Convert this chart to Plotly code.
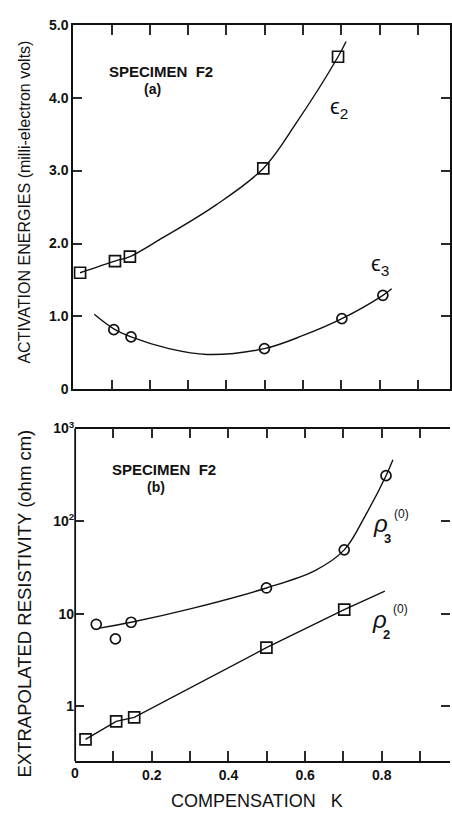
import plotly.graph_objects as go

# ---------------- data ----------------
# Panel (a): activation energies (meV) vs compensation K
k_e2 = [0.018, 0.109, 0.148, 0.496, 0.691]
e2 = [1.60, 1.76, 1.82, 3.03, 4.56]
k_e2_curve = [0.018, 0.109, 0.148, 0.234, 0.37, 0.496, 0.583, 0.691, 0.712]
e2_curve = [1.60, 1.76, 1.82, 2.08, 2.52, 3.03, 3.66, 4.56, 4.77]

k_e3 = [0.106, 0.151, 0.499, 0.701, 0.808]
e3 = [0.82, 0.72, 0.56, 0.97, 1.29]
k_e3_curve = [0.055, 0.106, 0.151, 0.25, 0.35, 0.499, 0.60, 0.701, 0.808, 0.831]
e3_curve = [1.03, 0.83, 0.72, 0.56, 0.48, 0.56, 0.74, 0.97, 1.29, 1.38]

# Panel (b): extrapolated resistivity (ohm cm) vs compensation K
k_r3 = [0.055, 0.105, 0.146, 0.499, 0.702, 0.811]
r3 = [7.7, 5.35, 8.1, 19.0, 49.0, 310.0]
k_r3_curve = [0.063, 0.146, 0.30, 0.499, 0.627, 0.702, 0.757, 0.811, 0.829]
r3_curve = [7.0, 8.1, 11.3, 19.0, 29.5, 49.0, 115.0, 310.0, 460.0]

k_r2 = [0.027, 0.107, 0.154, 0.499, 0.702]
r2 = [0.44, 0.69, 0.76, 4.3, 11.1]
k_r2_line = [0.027, 0.107, 0.154, 0.499, 0.702, 0.808]
r2_line = [0.44, 0.69, 0.76, 4.3, 11.1, 17.6]

# ticks
x_tickvals = [0.1 * i for i in range(1, 10)]
x_ticktext = ["", "0.2", "", "0.4", "", "0.6", "", "0.8", ""]
e_tickvals = [0, 1, 2, 3, 4, 5]
e_ticktext = ["0", "1.0", "2.0", "3.0", "4.0", "5.0"]
r_tickvals = [1, 10, 100, 1000]
r_ticktext = ["1", "10", "10<sup>2</sup>", "10<sup>3</sup>"]

# ---------------- figure ----------------
W, H = 452, 818
FONT = "Liberation Sans"
BLACK = "#111111"

fig = go.Figure()

line_style = dict(color=BLACK, width=1.4)
sq_marker = dict(symbol="square-open", size=11, color=BLACK, line=dict(width=1.7, color=BLACK))
ci_marker = dict(symbol="circle-open", size=10, color=BLACK, line=dict(width=1.7, color=BLACK))

fig.add_trace(go.Scatter(x=k_e2_curve, y=e2_curve, mode="lines", line=dict(shape="spline", **line_style),
                         xaxis="x", yaxis="y", hoverinfo="skip"))
fig.add_trace(go.Scatter(x=k_e2, y=e2, mode="markers", marker=sq_marker, xaxis="x", yaxis="y"))
fig.add_trace(go.Scatter(x=k_e3_curve, y=e3_curve, mode="lines", line=dict(shape="spline", **line_style),
                         xaxis="x", yaxis="y", hoverinfo="skip"))
fig.add_trace(go.Scatter(x=k_e3, y=e3, mode="markers", marker=ci_marker, xaxis="x", yaxis="y"))
fig.add_trace(go.Scatter(x=k_r3_curve, y=r3_curve, mode="lines", line=dict(shape="spline", **line_style),
                         xaxis="x2", yaxis="y2", hoverinfo="skip"))
fig.add_trace(go.Scatter(x=k_r3, y=r3, mode="markers", marker=ci_marker, xaxis="x2", yaxis="y2"))
fig.add_trace(go.Scatter(x=k_r2_line, y=r2_line, mode="lines", line=line_style,
                         xaxis="x2", yaxis="y2", hoverinfo="skip"))
fig.add_trace(go.Scatter(x=k_r2, y=r2, mode="markers", marker=sq_marker, xaxis="x2", yaxis="y2"))

top_dom = [1 - 388 / H, 1 - 15 / H]
bot_dom = [1 - 768 / H, 1 - 428 / H]
x_left_top = 73.5
x_left_bot = 75.5
scale = 385.0
e_range = [0, 5.0]
r_range = [-0.591, 3.0]

tickfont = dict(family=FONT, size=14, color=BLACK)
TC = "#2a2a2a"

common_x = dict(showgrid=False, zeroline=False, showline=True, linecolor=BLACK, linewidth=1.8,
                mirror="ticks", ticks="inside", ticklen=10, tickwidth=2, tickcolor=TC,
                tickmode="array", tickvals=x_tickvals, tickfont=tickfont)
common_y = dict(showgrid=False, zeroline=False, linecolor=BLACK, linewidth=1.8, mirror="ticks",
                ticks="inside", ticklen=9, tickwidth=2, tickcolor=TC, tickmode="array",
                tickfont=tickfont)

fig.update_layout(
    width=W, height=H,
    margin=dict(l=0, r=0, t=0, b=0),
    paper_bgcolor="white", plot_bgcolor="white",
    showlegend=False,
    font=dict(family=FONT, color=BLACK),
    xaxis=dict(domain=[x_left_top / W, 1], range=[0, (W - x_left_top) / scale], anchor="y",
               showticklabels=False, **common_x),
    yaxis=dict(domain=top_dom, range=e_range, anchor="x", tickvals=e_tickvals, showline=True,
               ticktext=["<b>%s</b>" % t for t in e_ticktext], **common_y),
    xaxis2=dict(domain=[x_left_bot / W, 1], range=[0, (W - x_left_bot) / scale], anchor="y2",
                ticktext=["<b>%s</b>" % t if t else "" for t in x_ticktext], **common_x),
    yaxis2=dict(domain=bot_dom, type="log", range=r_range, anchor="x2", tickvals=r_tickvals, showline=False,
                ticktext=["<b>%s</b>" % t for t in r_ticktext], **common_y),
)

ann = []
def A(text, x, y, xref, yref, size, **kw):
    d = dict(text=text, x=x, y=y, xref=xref, yref=yref, showarrow=False,
             font=dict(family=FONT, size=size, color=BLACK), xanchor="center", yanchor="middle")
    d.update(kw)
    ann.append(d)

A("<b>SPECIMEN  F2</b>", 0.229, 4.36, "x", "y", 15)
A("<b>(a)</b>", 0.207, 4.12, "x", "y", 14)
A("<b>SPECIMEN  F2</b>", 0.233, 2.555, "x2", "y2", 15)
A("<b>(b)</b>", 0.211, 2.365, "x2", "y2", 14)

A("ϵ<sub>2</sub>", 0.693, 3.86, "x", "y", 22)
A("ϵ<sub>3</sub>", 0.80, 1.70, "x", "y", 22)
A("<i>ρ</i>", 0.797, 1.975, "x2", "y2", 24)
A("(0)", 0.852, 2.08, "x2", "y2", 12)
A("<b>3</b>", 0.815, 1.81, "x2", "y2", 13)
A("<i>ρ</i>", 0.794, 0.94, "x2", "y2", 24)
A("(0)", 0.849, 1.05, "x2", "y2", 12)
A("<b>2</b>", 0.812, 0.78, "x2", "y2", 13)

A("ACTIVATION ENERGIES (milli-electron volts)", 25 / W, 1 - 196 / H, "paper", "paper", 16, textangle=-90)
A("EXTRAPOLATED RESISTIVITY (ohm cm)", 25 / W, 1 - 607 / H, "paper", "paper", 18.5, textangle=-90)
A("COMPENSATION   K", 258 / W, 1 - 809 / H, "paper", "paper", 18)
A("<b>0</b>", 0.0, 1 - 780 / H, "x2", "paper", 14)
A("<b>1.0</b>", 1.0, 1 - 780 / H, "x2", "paper", 14)

fig.update_layout(annotations=ann)
fig.add_shape(type="line", xref="x2 domain", yref="y2 domain", x0=0, x1=0, y0=0, y1=1,
              line=dict(color=BLACK, width=1.8))
fig.write_html("out.html")
